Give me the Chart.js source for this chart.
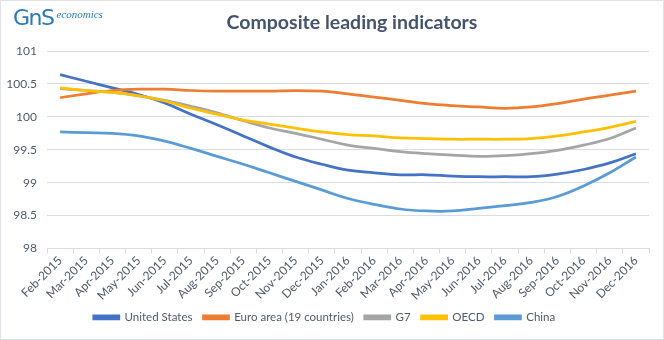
<!DOCTYPE html>
<html>
<head>
<meta charset="utf-8">
<script src="https://cdn.jsdelivr.net/npm/chart.js@4.4.1/dist/chart.umd.min.js"></script>
<style>
  html, body { margin: 0; padding: 0; background: #fff; }
  #wrap { position: relative; width: 664px; height: 340px; }
  canvas { position: absolute; left: 0; top: 0; }
  #logo { position: absolute; left: 13px; top: 5px; color: #2a78b8; white-space: nowrap; }
  #logo .g { font-family: "DejaVu Sans", sans-serif; font-size: 22px; letter-spacing: -1.5px; }
  #logo .e { font-family: "Liberation Serif", serif; font-style: italic; font-size: 11px; margin-left: 3px; position: relative; top: -7px; }
  #title { position: absolute; left: 352px; top: 10px; transform: translateX(-50%); white-space: nowrap;
    font-family: Lato, "Open Sans", sans-serif; font-weight: bold; font-size: 19.5px; color: #44546A; }
</style>
</head>
<body>
<div id="wrap">
  <canvas id="c" width="664" height="340"></canvas>
  <div id="logo"><span class="g">GnS</span><span class="e">economics</span></div>
  <div id="title">Composite leading indicators</div>
</div>
<script>
const months = ['Feb-2015','Mar-2015','Apr-2015','May-2015','Jun-2015','Jul-2015','Aug-2015','Sep-2015','Oct-2015','Nov-2015','Dec-2015',
  'Jan-2016','Feb-2016','Mar-2016','Apr-2016','May-2016','Jun-2016','Jul-2016','Aug-2016','Sep-2016','Oct-2016','Nov-2016','Dec-2016'];
const unitedStates = [100.64,100.54,100.44,100.34,100.21,100.04,99.88,99.71,99.54,99.39,99.28,99.19,99.15,99.12,99.12,99.10,99.09,99.09,99.09,99.13,99.20,99.30,99.44];
const euroArea = [100.29,100.35,100.40,100.42,100.42,100.40,100.39,100.39,100.39,100.40,100.39,100.35,100.30,100.25,100.20,100.17,100.15,100.13,100.15,100.20,100.27,100.33,100.39];
const g7 = [100.43,100.40,100.37,100.32,100.25,100.16,100.06,99.94,99.83,99.75,99.66,99.57,99.52,99.47,99.44,99.42,99.40,99.41,99.44,99.49,99.57,99.67,99.83];
const oecd = [100.44,100.40,100.37,100.32,100.24,100.13,100.04,99.95,99.89,99.83,99.77,99.73,99.71,99.68,99.67,99.66,99.66,99.66,99.67,99.71,99.77,99.84,99.93];
const china = [99.77,99.76,99.75,99.71,99.63,99.52,99.40,99.28,99.15,99.02,98.89,98.76,98.67,98.60,98.57,98.57,98.61,98.65,98.70,98.79,98.95,99.15,99.39];
const yTicks = [98, 98.5, 99, 99.5, 100, 100.5, 101];

const FONT = 'Lato, "Open Sans", sans-serif';
const TXT = '#505a6a';
const GRID = '#d9dde3';

function ds(label, data, color, order) {
  return { label, data, borderColor: color, backgroundColor: color, borderWidth: 2.75,
    pointRadius: 0, tension: 0.4, fill: false, order };
}

const borderPlugin = {
  id: 'frame',
  afterDraw(chart) {
    const ctx = chart.ctx;
    ctx.save();
    ctx.strokeStyle = '#dfe3e8';
    ctx.lineWidth = 2;
    ctx.strokeRect(0, 0, 664, 340);
    ctx.restore();
  }
};

new Chart(document.getElementById('c'), {
  type: 'line',
  data: {
    labels: months,
    datasets: [
      ds('United States', unitedStates, '#4472C4', 4),
      ds('Euro area (19 countries)', euroArea, '#ED7D31', 3),
      ds('G7', g7, '#A5A5A5', 2),
      ds('OECD', oecd, '#FFC000', 1),
      ds('China', china, '#5B9BD5', 0)
    ]
  },
  plugins: [borderPlugin],
  options: {
    responsive: false,
    animation: false,
    devicePixelRatio: 1,
    layout: { padding: { left: 0, right: 15, top: 51, bottom: 7 } },
    plugins: {
      title: { display: false },
      legend: {
        position: 'bottom',
        reverse: true,
        labels: {
          boxWidth: 25, boxHeight: 3, padding: 11,
          color: TXT,
          font: { family: FONT, size: 11.5 }
        }
      },
      tooltip: { enabled: false }
    },
    scales: {
      x: {
        offset: true,
        grid: { offset: true, drawOnChartArea: false, drawTicks: true, tickLength: 5, color: GRID },
        border: { display: true, color: GRID },
        ticks: { maxRotation: 45, minRotation: 45, autoSkip: false, color: TXT, padding: 0,
          font: { family: FONT, size: 12 } },
        afterFit(scale) { scale.height = 52; }
      },
      y: {
        min: yTicks[0], max: yTicks[yTicks.length - 1],
        afterBuildTicks(scale) { scale.ticks = yTicks.map(v => ({ value: v })); },
        grid: { color: GRID, drawTicks: false },
        border: { display: false },
        ticks: { color: TXT, padding: 10, font: { family: FONT, size: 12 },
          callback: v => String(v) },
        afterFit(scale) { scale.width = 47; }
      }
    }
  }
});
</script>
</body>
</html>
